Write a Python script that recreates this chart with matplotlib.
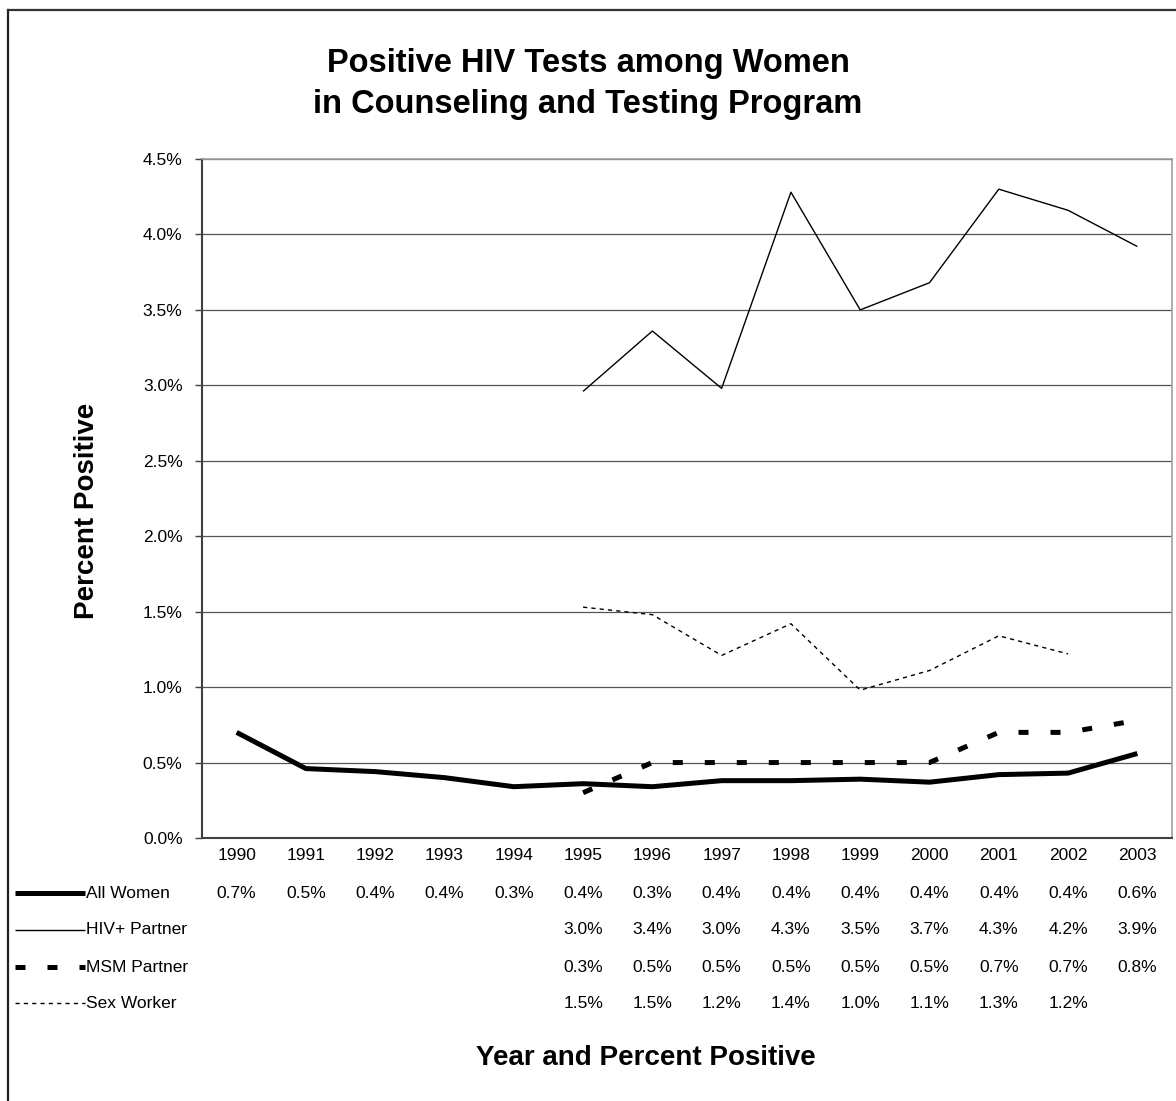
import numpy as np
import matplotlib
matplotlib.use('Agg')
import matplotlib.pyplot as plt
from matplotlib.lines import Line2D

plt.rcParams['font.family'] = ['Liberation Sans', 'DejaVu Sans']

# Data (percent positive)
years = ['1990', '1991', '1992', '1993', '1994', '1995', '1996',
         '1997', '1998', '1999', '2000', '2001', '2002', '2003']
all_women = [0.70, 0.46, 0.44, 0.40, 0.34, 0.36, 0.34, 0.38, 0.38, 0.39, 0.37, 0.42, 0.43, 0.56]
hiv_partner = [np.nan] * 5 + [2.96, 3.36, 2.98, 4.28, 3.50, 3.68, 4.30, 4.16, 3.92]
msm_partner = [np.nan] * 5 + [0.30, 0.50, 0.50, 0.50, 0.50, 0.50, 0.70, 0.70, 0.78]
sex_worker = [np.nan] * 5 + [1.53, 1.48, 1.21, 1.42, 0.98, 1.11, 1.34, 1.22, np.nan]

series_names = ['All Women', 'HIV+ Partner', 'MSM Partner', 'Sex Worker']
series_values = [all_women, hiv_partner, msm_partner, sex_worker]
styles = [dict(lw=3.6, ls='-'),
          dict(lw=1.0, ls='-'),
          dict(lw=3.6, ls=(0, (2.0, 4.4))),
          dict(lw=1.0, ls=(0, (3, 3)))]

W, H = 1176, 1101
fig = plt.figure(figsize=(W / 100, H / 100), dpi=100)

def fx(px):
    return px / W

def fy(py):
    return 1 - py / H

# plot area
left, right, top, bottom = 202, 1172, 159, 838
ax = fig.add_axes([fx(left), fy(bottom), fx(right - left), (bottom - top) / H])

x = np.arange(len(years))
for vals, st in zip(series_values, styles):
    ax.plot(x, vals, color='black', solid_capstyle='butt', dash_capstyle='butt', **st)

fs = 12.5
ax.set_xlim(-0.5, len(years) - 0.5)
ax.set_ylim(0, 4.5)
ax.set_yticks(np.arange(0, 4.51, 0.5))
ax.set_yticklabels([f'{t:.1f}%' for t in np.arange(0, 4.51, 0.5)], fontsize=fs)
ax.set_xticks(x)
ax.set_xticklabels(years, fontsize=fs)
ax.tick_params(axis='x', length=0, pad=7)
ax.tick_params(axis='y', length=5, width=1, color='#404040', pad=9)
ax.grid(axis='y', color='#555555', lw=0.9)
ax.set_axisbelow(True)

for side in ['left', 'bottom']:
    ax.spines[side].set_color('#404040')
    ax.spines[side].set_linewidth(1.5)
for side in ['top', 'right']:
    ax.spines[side].set_color('#a0a0a0')
    ax.spines[side].set_linewidth(1.2)

# data table below the axis
row_y = [893, 930, 967, 1003]
for name, vals, st, ry in zip(series_names, series_values, styles, row_y):
    fig.add_artist(Line2D([fx(15), fx(85)], [fy(ry), fy(ry)], color='black',
                          solid_capstyle='butt', dash_capstyle='butt', **st))
    fig.text(fx(86), fy(ry), name, fontsize=fs, ha='left', va='center')
    for i, v in enumerate(vals):
        if not np.isnan(v):
            tx = ax.transData.transform((i, 0))[0] / W
            fig.text(tx, fy(ry), f'{v:.1f}%', fontsize=fs, ha='center', va='center')

# titles
fig.text(fx(588), fy(84), 'Positive HIV Tests among Women\nin Counseling and Testing Program',
         fontsize=23.5, fontweight='bold', ha='center', va='center', linespacing=1.4)
fig.text(fx(87), fy(511), 'Percent Positive', fontsize=20, fontweight='bold',
         rotation=90, ha='center', va='center')
fig.text(fx(646), fy(1058), 'Year and Percent Positive', fontsize=20, fontweight='bold',
         ha='center', va='center')

# chart border (left and top visible)
fig.add_artist(Line2D([fx(8), fx(8)], [fy(10), 0], color='#222222', lw=1.6))
fig.add_artist(Line2D([fx(8), 1], [fy(10), fy(10)], color='#333333', lw=1.6))

fig.savefig('out.png', dpi=100)
